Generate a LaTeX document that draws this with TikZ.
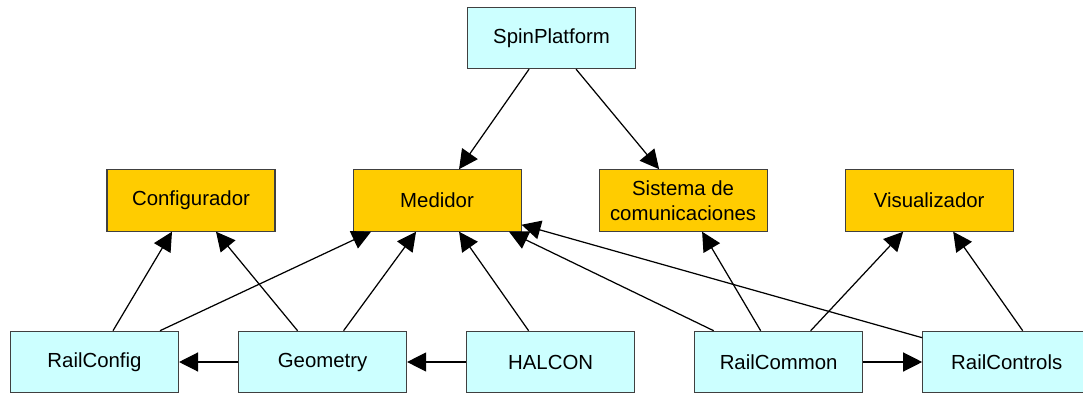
\documentclass[tikz,border=0pt]{standalone}
\usepackage{fontspec}
\setmainfont{Liberation Sans}
\usepackage{xcolor}
\usepackage{tikz}
\usetikzlibrary{positioning,arrows.meta,calc}
\definecolor{compcyan}{HTML}{CCFFFF}
\definecolor{modgold}{HTML}{FFCC00}

\begin{document}
\begin{tikzpicture}[
  font=\fontsize{11.6pt}{14pt}\selectfont,
  >={Triangle[length=0.38cm,width=0.38cm]},
  box/.style={draw=black!75, line width=0.6pt, minimum width=3.36cm, minimum height=1.23cm, align=center, inner sep=1pt},
  comp/.style={box, fill=compcyan},
  modl/.style={box, fill=modgold},
  arr/.style={->, line width=0.7pt},
]
\useasboundingbox (-1.89,-0.64) rectangle (19.77,7.24);

% Bottom row (components)
\node[comp] (railconfig) {RailConfig};
\node[comp, right=1.18cm of railconfig] (geometry) {Geometry};
\node[comp, right=1.18cm of geometry] (halcon) {HALCON};
\node[comp, right=1.18cm of halcon] (railcommon) {RailCommon};
\node[comp, right=1.18cm of railcommon] (railcontrols) {RailControls};

% Middle row (modules)
\node[modl, above=1.98cm of railconfig, xshift=1.93cm] (config) {Configurador};
\node[modl, right=1.54cm of config] (medidor) {Medidor};
\node[modl, right=1.54cm of medidor] (sistema) {Sistema de\\comunicaciones};
\node[modl, right=1.54cm of sistema] (visual) {Visualizador};

% Top
\node[comp, above=2.0cm of medidor, xshift=2.29cm] (spin) {SpinPlatform};

% Edges
\draw[arr] ($(spin.south)+(-0.45,0)$) -- ($(medidor.north)+(0.44,0)$);
\draw[arr] ($(spin.south)+(0.49,0)$) -- ($(sistema.north)+(-0.48,0)$);

\draw[arr] ($(railconfig.north)+(0.37,0)$) -- ($(config.south)+(-0.38,0)$);
\draw[arr] ($(railconfig.north)+(1.31,0)$) -- ($(medidor.south)+(-1.32,0)$);
\draw[arr] ($(geometry.north)+(-0.5,0)$) -- ($(config.south)+(0.5,0)$);
\draw[arr] ($(geometry.north)+(0.42,0)$) -- ($(medidor.south)+(-0.42,0)$);
\draw[arr] ($(halcon.north)+(-0.44,0)$) -- ($(medidor.south)+(0.44,0)$);
\draw[arr] ($(railcommon.north)+(-1.3,0)$) -- ($(medidor.south)+(1.44,0)$);
\draw[arr] ($(railcommon.north)+(-0.36,0)$) -- ($(sistema.south)+(0.38,0)$);
\draw[arr] ($(railcommon.north)+(0.64,0)$) -- ($(visual.south)+(-0.52,0)$);
\draw[arr] ($(railcontrols.north west)+(0,-0.14)$) -- ($(medidor.south east)+(0,0.14)$);
\draw[arr] ($(railcontrols.north)+(0.32,0)$) -- ($(visual.south)+(0.48,0)$);

\draw[arr] (geometry.west) -- (railconfig.east);
\draw[arr] (halcon.west) -- (geometry.east);
\draw[arr] (railcommon.east) -- (railcontrols.west);

\end{tikzpicture}
\end{document}
